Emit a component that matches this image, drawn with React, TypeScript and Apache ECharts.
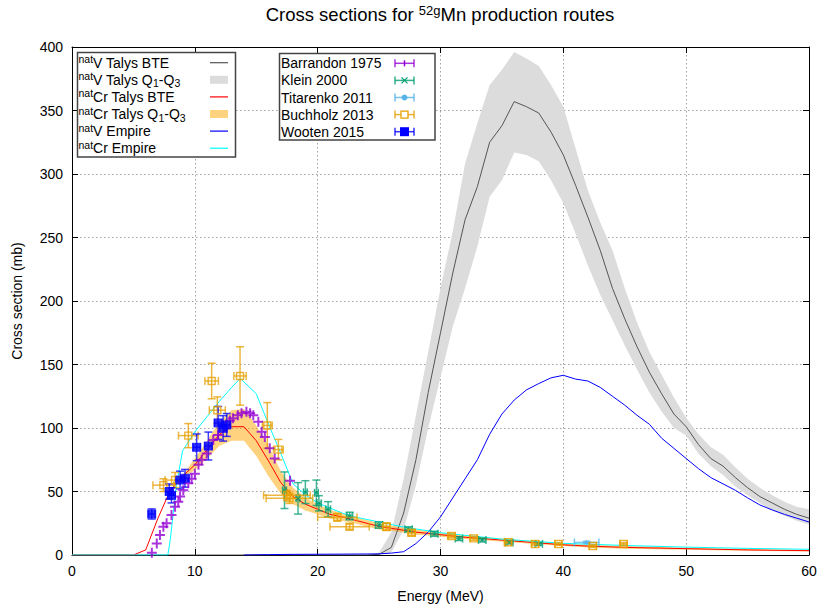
import React, { useEffect, useRef } from "react";
import * as echarts from "echarts";

const FONT = "'Liberation Sans', Arial, Helvetica, sans-serif";

// ---- axes ----
const X_MIN = 0, X_MAX = 60, X_STEP = 10;
const Y_MIN = 0, Y_MAX = 400, Y_STEP = 50;

// ---- natV Talys (BTE + Q1-Q3 band) ----
const vTalysE = [0, 24, 25, 26, 27, 28, 29, 30, 31, 32, 33, 34, 35, 36, 37, 38, 39, 40, 41, 42, 43, 44, 45, 46, 47, 48, 49, 50, 51, 52, 53, 54, 55, 56, 57, 58, 59, 60];
const vTalysBTE = [0, 0, 0.5, 6, 33, 75, 128, 175, 222, 264, 290, 325, 338, 357, 353, 348, 333, 315, 291, 266, 240, 210, 186, 164, 144, 127, 111, 101, 87, 76, 70, 61, 53, 46, 41, 36, 32, 29];
const vTalysQ3 = [0, 0, 2, 18, 60, 110, 160, 210, 255, 308, 340, 370, 382, 396, 391, 385, 370, 353, 320, 287, 262, 240, 210, 183, 160, 142, 124, 108, 95, 85, 79, 69, 60, 53, 47, 42, 38, 36];
const vTalysQ1 = [0, 0, 0, 2, 20, 55, 100, 140, 180, 210, 243, 282, 295, 317, 315, 310, 295, 277, 253, 228, 205, 185, 165, 146, 128, 113, 100, 94, 80, 70, 63, 54, 47, 41, 35, 31, 27, 24];

// ---- natCr Talys ----
const crTalysE = [0, 5, 6, 7, 8, 9, 10, 11, 12, 13, 14, 15, 16, 17, 18, 19, 20, 21, 22, 23, 24, 25, 26, 27, 28, 29, 30, 32, 34, 36, 38, 40, 42, 45, 50, 55, 60];
const crTalysBTE = [0, 0, 4, 29, 51, 62, 71, 83, 95, 101, 101, 90, 74, 57, 46, 40, 36, 32, 30, 27.5, 25, 22.5, 21, 19.5, 18, 17, 16, 14, 12.5, 11, 9.5, 8, 7, 6, 5, 4, 3.4];
const crBandE = [8, 9, 10, 11, 12, 13, 14, 15, 16, 17, 18, 19, 20, 21, 22, 23, 24, 25, 26, 27, 28, 29, 30, 32, 34, 36, 38, 40, 42, 45, 50, 55, 60];
const crTalysQ3 = [51, 63, 76, 90, 105, 114, 115, 102, 86, 66, 53, 45, 40, 35.5, 33, 30, 27.5, 25, 23, 21.5, 20, 18.7, 17.6, 15.4, 13.8, 12.2, 10.6, 9, 8, 7, 5.8, 4.7, 4];
const crTalysQ1 = [51, 60, 67, 76, 86, 90, 90, 78, 62, 48, 40, 35, 32, 28.5, 27, 25, 22.5, 20, 19, 17.5, 16, 15.3, 14.4, 12.6, 11.2, 9.8, 8.4, 7, 6, 5, 4.2, 3.3, 2.8];

// ---- Empire ----
const vEmpireE = [14, 16, 18, 20, 22, 24, 25, 26, 27, 28, 29, 30, 31, 32, 33, 34, 35, 36, 37, 38, 39, 40, 41, 42, 43, 44, 45, 46, 47, 48, 49, 50, 51, 52, 53, 54, 55, 56, 57, 58, 59, 60];
const vEmpireS = [0, 0.3, 0.5, 0.6, 0.7, 0.8, 0.9, 1.5, 2.6, 9, 18, 30, 45, 60, 75, 95, 111, 122, 130, 135, 139.5, 141.5, 138.5, 137, 132, 125, 118, 110, 103, 92, 84, 76, 68, 61, 56, 51, 45, 39.4, 35.5, 32, 29, 26];
const crEmpireE = [0, 7.8, 8, 8.5, 9, 10, 11, 12, 13, 13.7, 15, 16, 17, 18, 19, 20, 21, 22, 23, 24, 25, 27, 30, 35, 40, 45, 50, 55, 60];
const crEmpireS = [0, 0, 12, 55, 82, 97, 109, 121, 132, 139, 127, 103, 80, 56, 47.5, 41, 37, 33, 30, 28, 26, 22, 17.5, 12.5, 9.2, 7.5, 6.2, 5.2, 4.5];

// ---- experimental data ----
const barrandonE = [6.5, 6.9, 7.16, 7.44, 7.7, 8.1, 8.39, 8.65, 8.8, 9.06, 9.47, 9.74, 10.0, 10.3, 10.56, 10.97, 11.5, 11.9, 12.45, 12.86, 13.1, 13.5, 13.8, 14.2, 14.5, 14.76, 15.17, 15.44, 15.7, 16.1, 16.5, 17.75];
const barrandonS = [1.8, 9, 15.7, 22.3, 25, 31.5, 38, 42, 46, 51, 56.4, 60, 64, 71, 75, 80, 90.5, 94.5, 101, 106, 107.6, 110, 111.6, 112.8, 111.6, 110, 105, 97, 93, 84, 76, 58.5];

const kleinE = [17.3, 18.4, 19.0, 19.9, 20.1, 20.85, 22.6, 25.0, 27.4, 29.5, 31.5, 33.4, 35.6, 38.0];
const kleinS = [51, 44.6, 49.5, 49, 40.7, 36, 30.7, 23.6, 20.2, 16.7, 12.9, 11.8, 9.8, 8.7];
const kleinXerr = [0.15, 0.15, 0.15, 0.15, 0.2, 0.2, 0.25, 0.3, 0.3, 0.3, 0.3, 0.3, 0.3, 0.3];
const kleinYerr = [14.4, 12.4, 9, 10, 6, 6, 3, 2.5, 2, 2, 1.5, 1.5, 1, 1];

const titarenkoE = [41.9];
const titarenkoS = [9.9];
const titarenkoXerr = [1.0];
const titarenkoYerr = [0.8];

const buchholzE = [7.44, 8.39, 9.47, 11.37, 11.83, 13.68, 15.9, 16.8, 17.5, 17.7, 21.6, 22.6, 25.6, 27.65, 30.9, 32.7, 35.5, 37.7, 39.6, 42.4, 44.9];
const buchholzS = [55, 59, 94, 137, 114, 141, 102, 83, 47, 44.6, 29.7, 22.3, 22.3, 17.5, 15, 13.1, 10, 8.7, 8.7, 7.1, 8.7];
const buchholzXerr = [0.85, 0.8, 0.8, 0.55, 0.65, 0.5, 0.4, 0.4, 1.9, 1.9, 1.6, 1.6, 0.3, 0.3, 0.3, 0.3, 0.3, 0.3, 0.3, 0.3, 0.3];
const buchholzYerr = [5, 6, 9.5, 14, 10.5, 23, 18, 8, 4, 4, 3, 2, 3, 2, 1.5, 1.5, 1, 1, 1, 1, 1];

const wootenE = [6.49, 7.92, 8.1, 8.8, 9.2, 10.15, 11.1, 11.9, 12.3, 12.6];
const wootenS = [32.3, 50, 47, 59, 60.4, 84.8, 85.8, 104, 99.7, 102.4];
const wootenXerr = [0.27, 0.3, 0.3, 0.35, 0.35, 0.3, 0.3, 0.3, 0.3, 0.3];
const wootenYerr = [4, 6, 6, 7, 7, 10.5, 11, 13, 10, 9];

// ---- legend labels ----
const modelLegend = [
  "{sup|nat}{n|V Talys BTE}",
  "{sup|nat}{n|V Talys Q}{sub|1}{n|-Q}{sub|3}",
  "{sup|nat}{n|Cr Talys BTE}",
  "{sup|nat}{n|Cr Talys Q}{sub|1}{n|-Q}{sub|3}",
  "{sup|nat}{n|V Empire}",
  "{sup|nat}{n|Cr Empire}",
];
const dataLegend = ["Barrandon 1975", "Klein 2000", "Titarenko 2011", "Buchholz 2013", "Wooten 2015"];

const C_VTALYS = "#555555";
const C_VBAND = "#dcdcdc";
const C_CRTALYS = "#ff0000";
const C_CRBAND = "rgba(255,165,0,0.5)";
const C_VEMP = "#0000ff";
const C_CREMP = "#00ffff";
const C_BARR = "#9400d3";
const C_KLEIN = "#009e73";
const C_TITA = "#56b4e9";
const C_BUCH = "#e69f00";
const C_WOOT = "#0000ff";

const PLUS = "path://M4,0H6V4H10V6H6V10H4V6H0V4H4Z";
const THINPLUS = "path://M4.3,0H5.7V4.3H10V5.7H5.7V10H4.3V5.7H0V4.3H4.3Z";
const STAR = "path://M5,0L6,3.3L9,1.5L7.2,4.5L10,5L7.2,5.5L9,8.5L6,6.7L5,10L4,6.7L1,8.5L2.8,5.5L0,5L2.8,4.5L1,1.5L4,3.3Z";

const pairs = (xs: number[], ys: number[]) => xs.map((x, i) => [x, ys[i]]);
const quads = (xs: number[], ys: number[], xe: number[], ye: number[]) => xs.map((x, i) => [x, ys[i], xe[i], ye[i]]);

function bandRender(E: number[], lo: number[], hi: number[], fill: string) {
  return (params: any, api: any) => {
    if (params.dataIndex !== 0) return null;
    const pts: number[][] = E.map((e, i) => api.coord([e, hi[i]]));
    for (let i = E.length - 1; i >= 0; i--) pts.push(api.coord([E[i], lo[i]]));
    return { type: "polygon", shape: { points: pts }, style: { fill } };
  };
}

function errRender(color: string, cap = 4) {
  return (_params: any, api: any) => {
    const x = api.value(0), y = api.value(1), xe = api.value(2), ye = api.value(3);
    const l = api.coord([x - xe, y]), r = api.coord([x + xe, y]);
    const t = api.coord([x, y + ye]), b = api.coord([x, y - ye]);
    const style = { stroke: color, lineWidth: 1.5, opacity: 0.75, fill: "none" };
    const children: any[] = [];
    if (xe > 0) {
      children.push({ type: "line", shape: { x1: l[0], y1: l[1], x2: r[0], y2: r[1] }, style });
      children.push({ type: "line", shape: { x1: l[0], y1: l[1] - cap, x2: l[0], y2: l[1] + cap }, style });
      children.push({ type: "line", shape: { x1: r[0], y1: r[1] - cap, x2: r[0], y2: r[1] + cap }, style });
    }
    if (ye > 0) {
      children.push({ type: "line", shape: { x1: t[0], y1: t[1], x2: b[0], y2: b[1] }, style });
      children.push({ type: "line", shape: { x1: t[0] - cap, y1: t[1], x2: t[0] + cap, y2: t[1] }, style });
      children.push({ type: "line", shape: { x1: b[0] - cap, y1: b[1], x2: b[0] + cap, y2: b[1] }, style });
    }
    return { type: "group", children };
  };
}

function lineSeries(name: string, E: number[], S: number[], color: string, z = 2) {
  return {
    name, type: "line", data: pairs(E, S), showSymbol: false, symbol: "none",
    lineStyle: { color, width: 1 }, itemStyle: { color }, z, silent: true,
  };
}

function errSeries(name: string, data: number[][], color: string) {
  return {
    name: name + " err", type: "custom", renderItem: errRender(color), data,
    encode: { x: 0, y: 1 }, z: 3, silent: true,
  };
}

function legendSwatches() {
  const out: any[] = [];
  const rowY = (i: number) => 62.7 + i * 17.1;
  // left box
  out.push({ type: "rect", shape: { x: 77.5, y: 52.5, width: 158, height: 104.5 }, style: { fill: "#fff", stroke: "#444", lineWidth: 1.5 }, z: 10 });
  modelLegend.forEach((t, i) => {
    out.push({
      type: "text", z: 11,
      style: {
        text: t, x: 78.5, y: rowY(i), verticalAlign: "middle", align: "left",
        rich: {
          n: { fontSize: 14, fontFamily: FONT, fill: "#000", lineHeight: 18 },
          sup: { fontSize: 10.5, fontFamily: FONT, fill: "#000", verticalAlign: "top", lineHeight: 10 },
          sub: { fontSize: 10.5, fontFamily: FONT, fill: "#000", verticalAlign: "bottom", lineHeight: 10 },
        },
      },
    });
  });
  const lx1 = 210, lx2 = 228;
  const lineLeg = (i: number, color: string) =>
    out.push({ type: "line", z: 11, shape: { x1: lx1, y1: rowY(i), x2: lx2, y2: rowY(i) }, style: { stroke: color, lineWidth: 1.2 } });
  const rectLeg = (i: number, color: string) =>
    out.push({ type: "rect", z: 11, shape: { x: lx1, y: rowY(i) - 4, width: lx2 - lx1, height: 8 }, style: { fill: color } });
  lineLeg(0, C_VTALYS);
  rectLeg(1, C_VBAND);
  lineLeg(2, C_CRTALYS);
  rectLeg(3, C_CRBAND);
  lineLeg(4, C_VEMP);
  lineLeg(5, C_CREMP);

  // right box
  out.push({ type: "rect", shape: { x: 279.5, y: 53.5, width: 155.5, height: 86.5 }, style: { fill: "#fff", stroke: "#444", lineWidth: 1.5 }, z: 10 });
  const colors = [C_BARR, C_KLEIN, C_TITA, C_BUCH, C_WOOT];
  dataLegend.forEach((t, i) => {
    const y = rowY(i) + 0.6;
    out.push({ type: "text", z: 11, style: { text: t, x: 281, y, verticalAlign: "middle", align: "left", fontSize: 14, fontFamily: FONT, fill: "#000" } });
    const c = colors[i];
    const st = { stroke: c, lineWidth: 1.5, opacity: 0.8 };
    out.push({ type: "line", z: 11, shape: { x1: 395, y1: y, x2: 414, y2: y }, style: st });
    out.push({ type: "line", z: 11, shape: { x1: 395, y1: y - 4, x2: 395, y2: y + 4 }, style: st });
    out.push({ type: "line", z: 11, shape: { x1: 414, y1: y - 4, x2: 414, y2: y + 4 }, style: st });
    const cx = 404.5;
    if (i === 0) {
      out.push({ type: "line", z: 12, shape: { x1: cx, y1: y - 3, x2: cx, y2: y + 3 }, style: { stroke: c, lineWidth: 1.5 } });
    } else if (i === 1) {
      out.push({ type: "line", z: 12, shape: { x1: cx - 3, y1: y - 3, x2: cx + 3, y2: y + 3 }, style: { stroke: c, lineWidth: 1.2 } });
      out.push({ type: "line", z: 12, shape: { x1: cx - 3, y1: y + 3, x2: cx + 3, y2: y - 3 }, style: { stroke: c, lineWidth: 1.2 } });
    } else if (i === 2) {
      out.push({ type: "circle", z: 12, shape: { cx, cy: y, r: 3 }, style: { fill: c } });
    } else if (i === 3) {
      out.push({ type: "rect", z: 12, shape: { x: cx - 3.5, y: y - 3.5, width: 7, height: 7 }, style: { fill: "#fff", stroke: c, lineWidth: 1.3 } });
    } else {
      out.push({ type: "rect", z: 12, shape: { x: cx - 4.5, y: y - 4.5, width: 9, height: 9 }, style: { fill: c } });
    }
  });
  return out;
}

export default function App() {
  const ref = useRef<HTMLDivElement>(null);
  useEffect(() => {
    if (!ref.current) return;
    const chart = echarts.init(ref.current, null, { renderer: "svg" });
    const axisCommon = {
      type: "value" as const,
      axisLine: { show: true, onZero: false, lineStyle: { color: "#000", width: 1 } },
      axisTick: { show: true, inside: true, length: 6, lineStyle: { color: "#000", width: 1 } },
    };
    const option: any = {
      animation: false,
      backgroundColor: "#fff",
      grid: { left: 72, right: 12, top: 47, bottom: 58, containLabel: false },
      xAxis: [
        {
          ...axisCommon, min: X_MIN, max: X_MAX, interval: X_STEP, position: "bottom",
          name: "Energy (MeV)", nameLocation: "middle", nameGap: 34,
          nameTextStyle: { fontSize: 14, fontFamily: FONT, color: "#000" },
          axisLabel: { fontSize: 14, fontFamily: FONT, color: "#000", margin: 9 },
          splitLine: { show: true, lineStyle: { color: "#a0a0a0", width: 1, type: [1.5, 2.5] } },
        },
        {
          ...axisCommon, min: X_MIN, max: X_MAX, interval: X_STEP, position: "top",
          axisLabel: { show: false }, splitLine: { show: false },
        },
      ],
      yAxis: [
        {
          ...axisCommon, min: Y_MIN, max: Y_MAX, interval: Y_STEP, position: "left",
          name: "Cross section (mb)", nameLocation: "middle", nameGap: 48, nameRotate: 90,
          nameTextStyle: { fontSize: 14, fontFamily: FONT, color: "#000" },
          axisLabel: { fontSize: 14, fontFamily: FONT, color: "#000", margin: 9 },
          splitLine: { show: true, lineStyle: { color: "#a0a0a0", width: 1, type: [1.5, 2.5] } },
        },
        {
          ...axisCommon, min: Y_MIN, max: Y_MAX, interval: Y_STEP, position: "right",
          axisLabel: { show: false }, splitLine: { show: false },
        },
      ],
      graphic: [
        {
          type: "text", z: 20,
          style: {
            text: "{n|Cross sections for }{sup|52g}{n|Mn production routes}",
            x: 440, y: 14, align: "center", verticalAlign: "middle",
            rich: {
              n: { fontSize: 18.5, fontFamily: FONT, fill: "#000", lineHeight: 21 },
              sup: { fontSize: 13, fontFamily: FONT, fill: "#000", verticalAlign: "top", lineHeight: 12 },
            },
          },
        },
        ...legendSwatches(),
      ],
      series: [
        {
          name: "natV Talys Q1-Q3", type: "custom", data: pairs(vTalysE, vTalysQ1),
          renderItem: bandRender(vTalysE, vTalysQ1, vTalysQ3, C_VBAND), encode: { x: 0, y: 1 }, z: 1, silent: true,
        },
        lineSeries("natV Talys BTE", vTalysE, vTalysBTE, C_VTALYS, 1),
        lineSeries("natCr Talys BTE", crTalysE, crTalysBTE, C_CRTALYS, 1),
        {
          name: "natCr Talys Q1-Q3", type: "custom", data: pairs(crBandE, crTalysQ1),
          renderItem: bandRender(crBandE, crTalysQ1, crTalysQ3, C_CRBAND), encode: { x: 0, y: 1 }, z: 1, silent: true,
        },
        lineSeries("natV Empire", vEmpireE, vEmpireS, C_VEMP, 2),
        lineSeries("natCr Empire", crEmpireE, crEmpireS, C_CREMP, 2),
        errSeries("Klein 2000", quads(kleinE, kleinS, kleinXerr, kleinYerr), C_KLEIN),
        errSeries("Titarenko 2011", quads(titarenkoE, titarenkoS, titarenkoXerr, titarenkoYerr), C_TITA),
        errSeries("Buchholz 2013", quads(buchholzE, buchholzS, buchholzXerr, buchholzYerr), C_BUCH),
        errSeries("Wooten 2015", quads(wootenE, wootenS, wootenXerr, wootenYerr), C_WOOT),
        {
          name: "Barrandon 1975", type: "scatter", data: pairs(barrandonE, barrandonS),
          symbol: PLUS, symbolSize: 10, itemStyle: { color: C_BARR }, z: 4, silent: true,
        },
        {
          name: "Klein 2000", type: "scatter", data: pairs(kleinE, kleinS),
          symbol: THINPLUS, symbolRotate: 45, symbolSize: 7, itemStyle: { color: C_KLEIN }, z: 4, silent: true,
        },
        {
          name: "Titarenko 2011", type: "scatter", data: pairs(titarenkoE, titarenkoS),
          symbol: STAR, symbolSize: 7, itemStyle: { color: C_TITA }, z: 4, silent: true,
        },
        {
          name: "Buchholz 2013", type: "scatter", data: pairs(buchholzE, buchholzS),
          symbol: "rect", symbolSize: 7, itemStyle: { color: "rgba(255,255,255,0)", borderColor: C_BUCH, borderWidth: 1.4 }, z: 4, silent: true,
        },
        {
          name: "Wooten 2015", type: "scatter", data: pairs(wootenE, wootenS),
          symbol: "rect", symbolSize: 9, itemStyle: { color: C_WOOT }, z: 4, silent: true,
        },
      ],
    };
    chart.setOption(option);
    return () => chart.dispose();
  }, []);
  return <div ref={ref} style={{ position: "fixed", left: 0, top: 0, width: 821, height: 613, background: "#fff" }} />;
}
